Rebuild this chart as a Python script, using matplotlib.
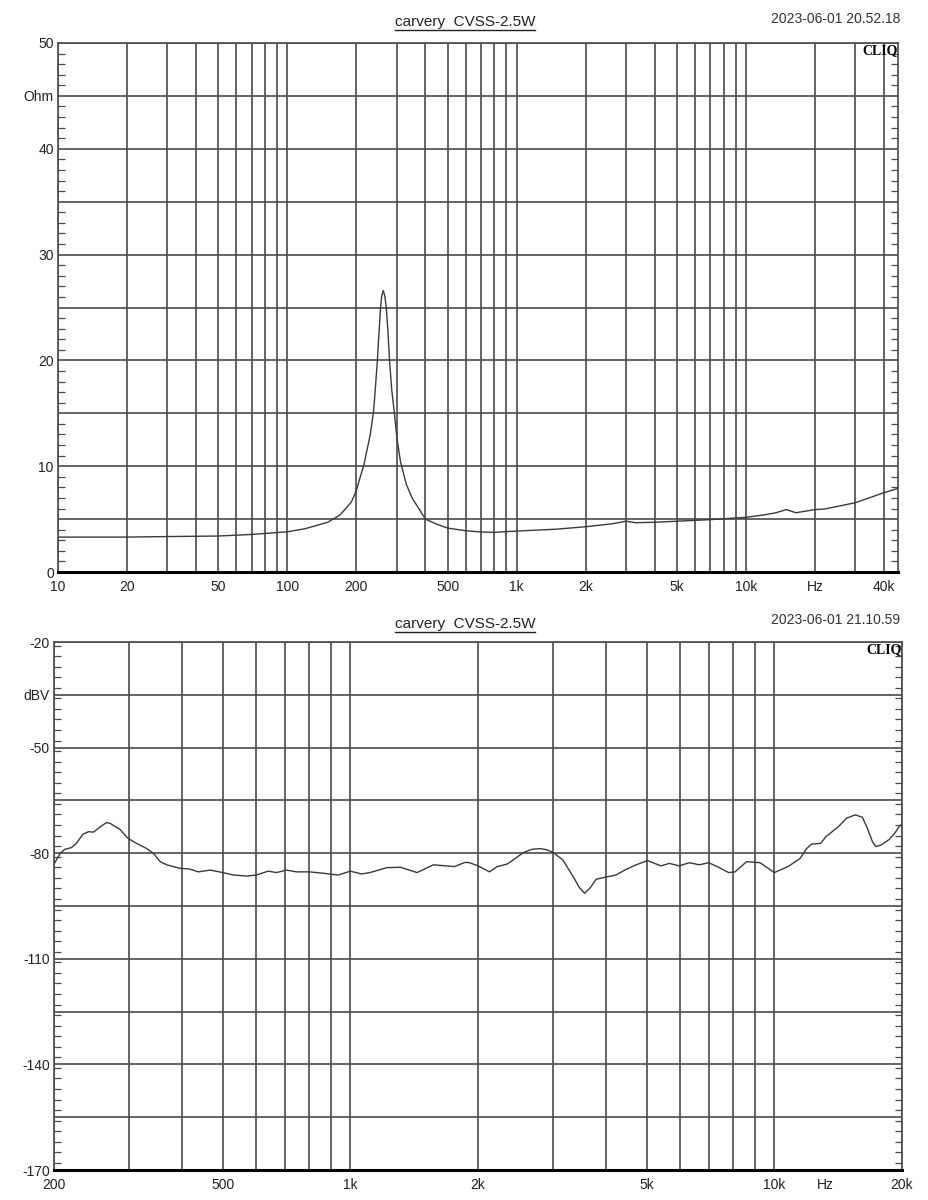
import matplotlib
matplotlib.use('Agg')
import matplotlib.pyplot as plt
import matplotlib.transforms as mtransforms
from matplotlib.lines import Line2D
from matplotlib.ticker import FixedLocator, FixedFormatter, MultipleLocator

plt.rcParams['font.family'] = ['Liberation Sans', 'DejaVu Sans']

title = 'carvery  CVSS-2.5W'
date_top = '2023-06-01 20.52.18'
date_bot = '2023-06-01 21.10.59'

# impedance curve (Hz, Ohm)
imp_freq = [10, 20, 30, 50, 70, 100, 120, 150, 170, 190, 200, 208, 215, 230, 237,
            240, 247, 250, 255, 258, 262, 266, 270, 275, 279, 285, 293, 300, 311,
            330, 350, 400, 450, 500, 600, 700, 800, 1000, 1500, 2000, 2600, 3000,
            3300, 4000, 5000, 7000, 10000, 12000, 13500, 15000, 16500, 20000,
            22000, 30000, 40000, 46000]
imp_ohm = [3.3, 3.3, 3.35, 3.4, 3.55, 3.8, 4.1, 4.7, 5.4, 6.6, 7.7, 9.0, 10.0, 13.0, 15.0,
           16.3, 20.0, 22.0, 25.0, 26.1, 26.6, 26.1, 25.0, 22.5, 20.0, 17.3, 15.0, 12.8, 10.5,
           8.3, 7.0, 5.0, 4.5, 4.15, 3.9, 3.78, 3.75, 3.87, 4.05, 4.28, 4.55, 4.8,
           4.66, 4.7, 4.8, 4.95, 5.17, 5.4, 5.6, 5.9, 5.6, 5.9,
           5.95, 6.55, 7.5, 7.9]

# response curve (Hz, dBV)
spl_freq = [200, 207, 212, 220, 226, 234, 241, 248, 257, 266, 271, 286, 299, 313, 330,
            343, 356, 369, 396, 418, 438, 467, 500, 530, 570, 600, 640, 670, 707, 746,
            800, 865, 937, 1000, 1063, 1112, 1220, 1312, 1437, 1570, 1760, 1865, 1910,
            2000, 2130, 2220, 2340, 2390, 2560, 2680, 2800, 2900, 3000, 3170, 3370, 3470,
            3570, 3680, 3800, 4000, 4230, 4470, 4720, 5020, 5400, 5650, 5970, 6300, 6650,
            7000, 7390, 7800, 8080, 8600, 9250, 10000, 10770, 11500, 11930, 12250, 12860,
            13230, 14150, 14780, 15520, 16130, 16570, 17030, 17350, 17840, 18660, 19200,
            19740, 20000]
spl_dbv = [-83.1, -80.0, -78.9, -78.4, -77.2, -74.6, -73.9, -74.0, -72.5, -71.3, -71.5,
           -73.2, -75.8, -77.2, -78.6, -80.0, -82.4, -83.3, -84.3, -84.5, -85.3, -84.8,
           -85.5, -86.2, -86.5, -86.2, -85.1, -85.5, -84.8, -85.3, -85.3, -85.7, -86.2,
           -85.1, -85.9, -85.5, -84.1, -84.0, -85.5, -83.3, -83.8, -82.6, -82.7, -83.6,
           -85.3, -83.8, -83.1, -82.4, -79.8, -78.9, -78.7, -79.0, -79.7, -81.9, -87.1,
           -89.8, -91.4, -89.8, -87.4, -86.8, -86.2, -84.6, -83.3, -82.1, -83.6, -82.9,
           -83.6, -82.7, -83.3, -82.7, -84.0, -85.5, -85.3, -82.4, -82.7, -85.5, -83.8,
           -81.5, -78.6, -77.4, -77.2, -75.3, -72.5, -70.1, -69.1, -69.8, -72.9, -76.7,
           -78.1, -77.7, -76.1, -74.4, -72.3, -71.7]

top_grid_x = [10, 20, 30, 40, 50, 60, 70, 80, 90, 100, 200, 300, 400, 500, 600, 700, 800,
              900, 1000, 2000, 3000, 4000, 5000, 6000, 7000, 8000, 9000, 10000, 20000,
              30000, 40000]
top_xlabels = {10: '10', 20: '20', 50: '50', 100: '100', 200: '200', 500: '500',
               1000: '1k', 2000: '2k', 5000: '5k', 10000: '10k', 20000: 'Hz', 40000: '40k'}
top_ylabels = {0: '0', 10: '10', 20: '20', 30: '30', 40: '40', 45: 'Ohm', 50: '50'}

bot_grid_x = [200, 300, 400, 500, 600, 700, 800, 900, 1000, 2000, 3000, 4000, 5000, 6000,
              7000, 8000, 9000, 10000, 20000]
bot_xlabels = {200: '200', 500: '500', 1000: '1k', 2000: '2k', 5000: '5k', 10000: '10k',
               20000: '20k'}
bot_ylabels = {-20: '-20', -35: 'dBV', -50: '-50', -80: '-80', -110: '-110', -140: '-140',
               -170: '-170'}

GRID = '#4a4a4a'
CURVE = '#3a3a3a'

fig = plt.figure(figsize=(9.29, 12), dpi=100)
ax1 = fig.add_axes([58 / 929, 1 - 572 / 1200, 840 / 929, 529 / 1200])
ax2 = fig.add_axes([54 / 929, 1 - 1170 / 1200, 848 / 929, 528 / 1200])


def style(ax, gx, xlabels, ylo, yhi, ystep, yminor, ylabels):
    ax.set_xscale('log')
    ax.xaxis.set_major_locator(FixedLocator(gx))
    ax.xaxis.set_major_formatter(FixedFormatter([xlabels.get(v, '') for v in gx]))
    ax.xaxis.set_minor_locator(FixedLocator([]))
    yt = list(range(ylo, yhi + 1, ystep))
    ax.yaxis.set_major_locator(FixedLocator(yt))
    ax.yaxis.set_major_formatter(FixedFormatter([ylabels.get(v, '') for v in yt]))
    ax.yaxis.set_minor_locator(MultipleLocator(yminor))
    ax.grid(True, which='major', color=GRID, lw=1.2)
    ax.tick_params(which='major', length=0, labelsize=10, colors='#222222')
    ax.tick_params(axis='x', which='major', pad=6)
    ax.tick_params(axis='y', which='major', pad=3)
    ax.tick_params(axis='y', which='minor', direction='in', left=True, right=True,
                   length=5, width=0.9, color=GRID)
    for s in ['left', 'right', 'top']:
        ax.spines[s].set_color(GRID)
        ax.spines[s].set_linewidth(1.2)
    ax.spines['bottom'].set_color('black')
    ax.spines['bottom'].set_linewidth(2.2)
    ax.set_ylim(ylo, yhi)
    ax.text(1.0, 0.997, 'CLIQ', transform=ax.transAxes, ha='right', va='top',
            fontsize=10, fontweight='bold', family=['Liberation Serif', 'DejaVu Serif'])


style(ax1, top_grid_x, top_xlabels, 0, 50, 5, 1, top_ylabels)
ax1.set_xlim(10, 46000)
ax1.plot(imp_freq, imp_ohm, color=CURVE, lw=1.0)

style(ax2, bot_grid_x, bot_xlabels, -170, -20, 15, 3, bot_ylabels)
ax2.set_xlim(200, 20000)
ax2.plot(spl_freq, spl_dbv, color=CURVE, lw=1.0)
trans = mtransforms.blended_transform_factory(ax2.transData, ax2.transAxes)
trans = trans + mtransforms.ScaledTranslation(0, -6 / 72, fig.dpi_scale_trans)
ax2.text(13200, 0, 'Hz', transform=trans, ha='center', va='top', fontsize=10,
         color='#222222')

# titles and dates
t1 = fig.text(465 / 929, 1 - 22 / 1200, title, ha='center', va='center', fontsize=11,
              color='#222222')
t2 = fig.text(465 / 929, 1 - 624 / 1200, title, ha='center', va='center', fontsize=11,
              color='#222222')
fig.text(900 / 929, 1 - 19 / 1200, date_top, ha='right', va='center', fontsize=10,
         color='#333333')
fig.text(900 / 929, 1 - 620 / 1200, date_bot, ha='right', va='center', fontsize=10,
         color='#333333')

fig.canvas.draw()
r = fig.canvas.get_renderer()
for t in (t1, t2):
    bb = t.get_window_extent(r)
    y = bb.y0 - 1
    fig.add_artist(Line2D([bb.x0, bb.x1], [y, y], transform=None, color='#222222', lw=1.0))

fig.savefig('out.png', dpi=100)
